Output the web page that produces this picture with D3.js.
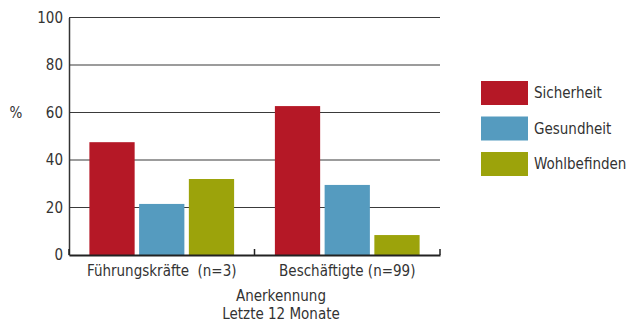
<!DOCTYPE html>
<html>
<head>
<meta charset="utf-8">
<script src="https://cdn.jsdelivr.net/npm/d3@7"></script>
<style>
  body { margin: 0; background: #fff; }
  text { font-family: "DejaVu Sans Condensed", "Roboto Condensed", sans-serif; fill: #333; white-space: pre; }
</style>
</head>
<body>
<svg id="chart" width="635" height="324"></svg>
<script>
const groups = ["Führungskräfte  (n=3)", "Beschäftigte (n=99)"];
const seriesNames = ["Sicherheit", "Gesundheit", "Wohlbefinden"];
const seriesColors = ["#b51826", "#559bbf", "#9ca30b"];
const values = [
  [47.5, 21.5, 32],
  [62.7, 29.5, 8.4]
];
const yTicks = [0, 20, 40, 60, 80, 100];

const svg = d3.select("#chart");
const margin = { top: 17.5, left: 69, right: 195, bottom: 69 };
const width = 635, height = 324;

const x = d3.scaleBand()
  .domain(groups)
  .range([margin.left, width - margin.right])
  .paddingInner(0).paddingOuter(0);

const xInner = d3.scaleBand()
  .domain(seriesNames)
  .range([0, x.bandwidth()])
  .paddingInner(0.09)
  .paddingOuter(0.41);

const y = d3.scaleLinear()
  .domain([0, 100])
  .range([height - margin.bottom, margin.top]);

// gridlines
svg.append("g")
  .selectAll("line")
  .data(yTicks.filter(d => d > 0))
  .enter()
  .append("line")
  .attr("x1", margin.left)
  .attr("x2", width - margin.right)
  .attr("y1", d => y(d))
  .attr("y2", d => y(d))
  .style("stroke", "#3a3a3a")
  .style("stroke-width", 1.2);

// bars
svg.append("g")
  .selectAll("g")
  .data(values)
  .enter()
  .append("g")
  .attr("transform", (d, i) => `translate(${x(groups[i])},0)`)
  .selectAll("rect")
  .data(d => d.map((v, j) => ({ name: seriesNames[j], value: v, color: seriesColors[j] })))
  .enter()
  .append("rect")
  .attr("x", d => xInner(d.name))
  .attr("width", xInner.bandwidth())
  .attr("y", d => y(d.value))
  .attr("height", d => y(0) - y(d.value))
  .style("fill", d => d.color);

// y axis
const yAxis = svg.append("g")
  .attr("transform", `translate(${margin.left},0)`)
  .call(d3.axisLeft(y).tickValues(yTicks).tickSize(0).tickPadding(6));
yAxis.select(".domain").style("stroke", "#333").style("stroke-width", 1.5);
yAxis.selectAll("text").style("font-size", "15px").style("fill", "#333").style("font-family", "DejaVu Sans Condensed, sans-serif");

// x axis
const xAxis = svg.append("g")
  .attr("transform", `translate(0,${y(0)})`)
  .call(d3.axisBottom(x).tickSize(0).tickPadding(10));
xAxis.select(".domain").style("stroke", "#222").style("stroke-width", 2);
xAxis.selectAll("text").style("font-size", "15px").style("fill", "#333").style("font-family", "DejaVu Sans Condensed, sans-serif");

// inward tick marks at band boundaries
const bounds = [margin.left, x(groups[1]), width - margin.right];
svg.append("g")
  .selectAll("line")
  .data(bounds)
  .enter()
  .append("line")
  .attr("x1", d => d).attr("x2", d => d)
  .attr("y1", y(0) - 6).attr("y2", y(0))
  .style("stroke", "#222")
  .style("stroke-width", 1.5);

// axis titles
svg.append("text")
  .attr("x", 16)
  .attr("y", y(60) + 5)
  .attr("text-anchor", "middle")
  .attr("font-size", 15)
  .text("%");

const titleX = 281;
const xTitle = svg.append("text")
  .attr("x", titleX)
  .attr("y", 301)
  .attr("text-anchor", "middle")
  .attr("font-size", 15);
xTitle.append("tspan").attr("x", titleX).attr("dy", 0).text("Anerkennung");
xTitle.append("tspan").attr("x", titleX).attr("dy", 18).text("Letzte 12 Monate");

// legend
const legend = svg.append("g")
  .selectAll("g")
  .data(seriesNames)
  .enter()
  .append("g")
  .attr("transform", (d, i) => `translate(481,${81 + i * 35.5})`);
legend.append("rect")
  .attr("width", 47)
  .attr("height", 24)
  .style("fill", (d, i) => seriesColors[i]);
legend.append("text")
  .attr("x", 53)
  .attr("y", 17)
  .attr("font-size", 15)
  .text(d => d);
</script>
</body>
</html>
